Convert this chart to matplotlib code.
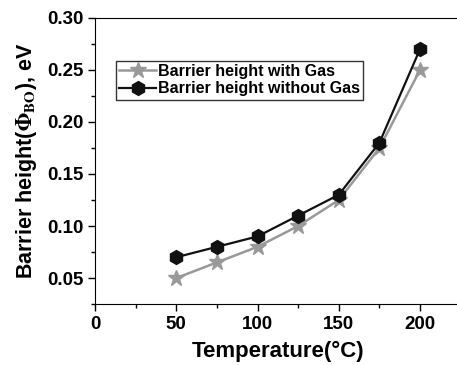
import matplotlib
matplotlib.use("Agg")
import matplotlib.pyplot as plt
from matplotlib.ticker import MultipleLocator

plt.rcParams["font.family"] = ["Liberation Sans", "DejaVu Sans"]
plt.rcParams["font.weight"] = "bold"
plt.rcParams["mathtext.fontset"] = "stix"

temperature = [50, 75, 100, 125, 150, 175, 200]
with_gas = [0.05, 0.065, 0.08, 0.10, 0.125, 0.175, 0.25]
without_gas = [0.07, 0.08, 0.09, 0.11, 0.13, 0.18, 0.27]

fig = plt.figure(figsize=(4.57, 3.65), dpi=100)
ax = fig.add_axes([0.208, 0.167, 0.80, 0.784])

ax.plot(temperature, with_gas, color="#999999", marker="*", markersize=12,
        linewidth=1.8, label="Barrier height with Gas", zorder=2)
ax.plot(temperature, without_gas, color="#111111", marker="h", markersize=10,
        linewidth=1.6, label="Barrier height without Gas", zorder=3)

ax.set_xlim(0, 225)
ax.set_ylim(0.025, 0.30)
ax.xaxis.set_major_locator(MultipleLocator(50))
ax.xaxis.set_minor_locator(MultipleLocator(25))
ax.yaxis.set_minor_locator(MultipleLocator(0.025))
ax.set_yticks([0.05, 0.10, 0.15, 0.20, 0.25, 0.30])
ax.set_yticklabels(["0.05", "0.10", "0.15", "0.20", "0.25", "0.30"])
ax.tick_params(which="major", length=5, width=1, labelsize=13.5)
ax.tick_params(which="minor", length=3, width=1)
for lbl in ax.get_xticklabels() + ax.get_yticklabels():
    lbl.set_fontweight("bold")
ax.spines["right"].set_visible(False)

ax.set_xlabel("Temperature(°C)", fontsize=16, fontweight="bold", labelpad=6)
ax.set_ylabel(r"Barrier height($\mathbf{\Phi}_{\mathrm{BO}}$), eV", fontsize=15.5,
              fontweight="bold", labelpad=6)

leg = ax.legend(loc="upper left", bbox_to_anchor=(0.058, 0.85), fontsize=11.5,
                frameon=True, fancybox=False, edgecolor="black",
                borderpad=0.2, labelspacing=0.15, handlelength=2.3,
                handletextpad=0.1, borderaxespad=0)
leg.get_frame().set_linewidth(1)
for t in leg.get_texts():
    t.set_fontweight("bold")

fig.savefig("out.png", dpi=100)
